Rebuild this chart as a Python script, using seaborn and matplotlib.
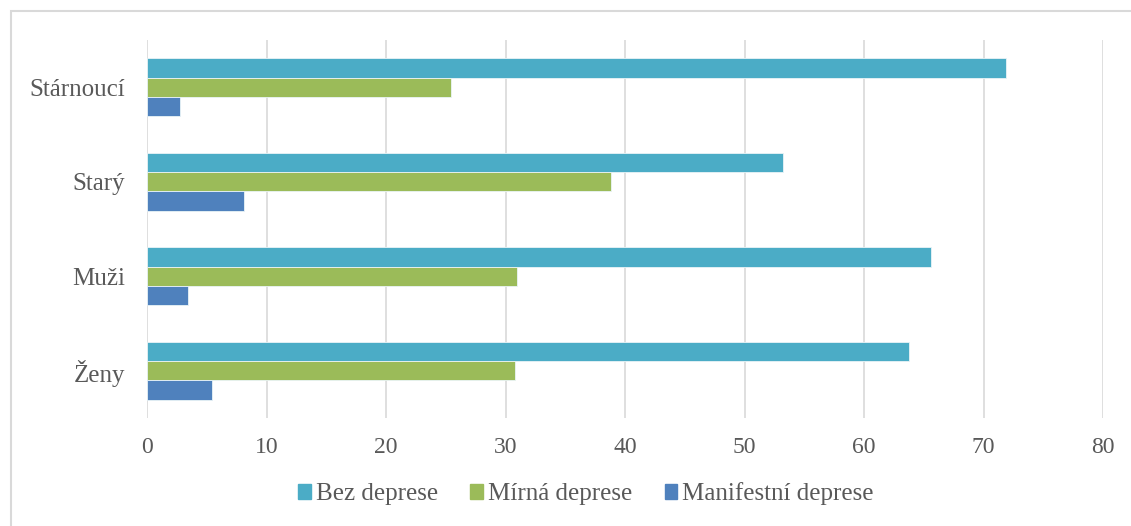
import pandas as pd
import matplotlib
matplotlib.use("Agg")
import matplotlib.pyplot as plt
import seaborn as sns
from matplotlib.patches import Rectangle

# data (percent)
categories = ["Stárnoucí", "Starý", "Muži", "Ženy"]
series = ["Bez deprese", "Mírná deprese", "Manifestní deprese"]
bez_deprese = [71.9, 53.2, 65.6, 63.8]
mirna_deprese = [25.4, 38.8, 31.0, 30.8]
manifestni_deprese = [2.8, 8.1, 3.4, 5.4]
colors = ["#4BACC6", "#9BBB59", "#4F81BD"]

rows = []
for vals, name in zip([bez_deprese, mirna_deprese, manifestni_deprese], series):
    for cat, v in zip(categories, vals):
        rows.append({"kategorie": cat, "skupina": name, "hodnota": v})
df = pd.DataFrame(rows)

sns.set_style("white")
plt.rcParams["font.family"] = ["Liberation Serif", "DejaVu Serif"]
text_color = "#595959"

fig = plt.figure(figsize=(11.31, 5.26), dpi=100)
ax = fig.add_axes([147 / 1131, 1 - 418 / 526, (1103 - 147) / 1131, (418 - 40) / 526])

sns.barplot(data=df, x="hodnota", y="kategorie", hue="skupina",
            order=categories, hue_order=series, palette=colors, saturation=1,
            orient="h", width=0.615, edgecolor="#EAF4F7", linewidth=0.6,
            ax=ax, zorder=3)

ax.set_xlim(0, 80)
ax.set_ylim(3.5, -0.5)
ax.set_xticks(range(0, 81, 10))
ax.xaxis.grid(True, color="#D9D9D9", linewidth=1.2, zorder=0)
ax.set_axisbelow(True)
for s in ax.spines.values():
    s.set_visible(False)
ax.set_xlabel("")
ax.set_ylabel("")
ax.tick_params(axis="x", length=0, pad=14, labelsize=17, labelcolor=text_color)
ax.tick_params(axis="y", length=0, pad=16, labelsize=18, labelcolor=text_color)

ax.legend_.remove()
handles = [Rectangle((0, 0), 1, 1, color=c) for c in colors]
fig.legend(handles, series, loc="center", bbox_to_anchor=(586 / 1131, 1 - 494 / 526),
           ncol=3, frameon=False, fontsize=18, labelcolor=text_color,
           handlelength=0.5, handleheight=0.5, handletextpad=0.2, columnspacing=1.3)

# chart-area border: only top and left edges fall inside the picture
fig.patches.append(Rectangle((11 / 1131, -0.05), 1.1, 1.05 - 11 / 526,
                             transform=fig.transFigure, fill=False,
                             edgecolor="#D9D9D9", linewidth=1.5))

fig.savefig("out.png", dpi=100)
